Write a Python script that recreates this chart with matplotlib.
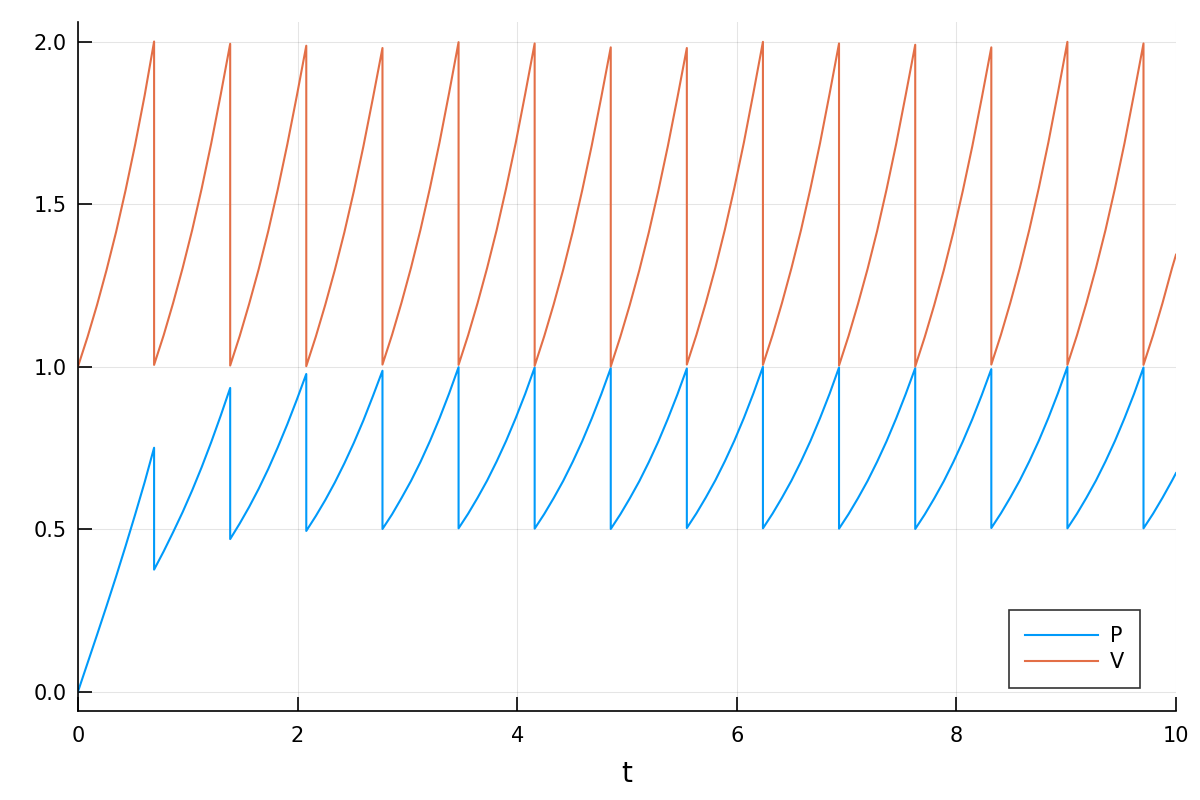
import matplotlib
matplotlib.use("Agg")
import matplotlib.pyplot as plt

# sample times along each sawtooth segment
t = [
    0.000, 0.087, 0.173, 0.260, 0.347, 0.433, 0.520, 0.607, 0.693,
    0.693, 0.780, 0.866, 0.953, 1.040, 1.126, 1.213, 1.300, 1.386,
    1.386, 1.473, 1.559, 1.646, 1.733, 1.819, 1.906, 1.993, 2.079,
    2.079, 2.166, 2.252, 2.339, 2.426, 2.512, 2.599, 2.686, 2.773,
    2.773, 2.860, 2.946, 3.033, 3.120, 3.206, 3.293, 3.380, 3.466,
    3.466, 3.553, 3.639, 3.726, 3.813, 3.899, 3.986, 4.073, 4.159,
    4.159, 4.246, 4.332, 4.419, 4.506, 4.592, 4.679, 4.766, 4.852,
    4.852, 4.939, 5.025, 5.112, 5.199, 5.285, 5.372, 5.459, 5.545,
    5.545, 5.632, 5.718, 5.805, 5.892, 5.978, 6.065, 6.152, 6.238,
    6.238, 6.325, 6.411, 6.498, 6.585, 6.671, 6.758, 6.845, 6.931,
    6.931, 7.018, 7.104, 7.191, 7.278, 7.364, 7.451, 7.538, 7.625,
    7.625, 7.712, 7.798, 7.885, 7.972, 8.058, 8.145, 8.232, 8.318,
    8.318, 8.405, 8.491, 8.578, 8.665, 8.751, 8.838, 8.925, 9.011,
    9.011, 9.098, 9.184, 9.271, 9.358, 9.444, 9.531, 9.618, 9.704,
    9.704, 9.791, 9.877, 9.964, 10.000,
]

P = [
    0.000, 0.087, 0.174, 0.263, 0.354, 0.447, 0.544, 0.644, 0.750,
    0.375, 0.431, 0.490, 0.552, 0.619, 0.690, 0.767, 0.849, 0.934,
    0.469, 0.517, 0.568, 0.624, 0.685, 0.751, 0.822, 0.898, 0.977,
    0.494, 0.540, 0.589, 0.643, 0.702, 0.765, 0.834, 0.909, 0.987,
    0.500, 0.545, 0.595, 0.648, 0.707, 0.771, 0.841, 0.917, 0.998,
    0.502, 0.547, 0.596, 0.649, 0.708, 0.771, 0.841, 0.916, 0.997,
    0.501, 0.546, 0.595, 0.648, 0.707, 0.770, 0.840, 0.915, 0.995,
    0.500, 0.545, 0.594, 0.647, 0.706, 0.769, 0.839, 0.914, 0.994,
    0.503, 0.548, 0.597, 0.650, 0.709, 0.772, 0.842, 0.918, 0.999,
    0.502, 0.547, 0.596, 0.649, 0.708, 0.771, 0.841, 0.916, 0.997,
    0.501, 0.546, 0.595, 0.648, 0.707, 0.770, 0.840, 0.915, 0.995,
    0.500, 0.545, 0.594, 0.647, 0.706, 0.769, 0.838, 0.913, 0.992,
    0.503, 0.548, 0.597, 0.650, 0.709, 0.772, 0.842, 0.918, 0.999,
    0.502, 0.547, 0.596, 0.649, 0.708, 0.771, 0.841, 0.916, 0.997,
    0.502, 0.547, 0.596, 0.649, 0.672,
]

V = [
    1.000, 1.091, 1.189, 1.297, 1.414, 1.542, 1.682, 1.834, 2.000,
    1.005, 1.096, 1.195, 1.303, 1.420, 1.547, 1.686, 1.837, 1.993,
    1.003, 1.094, 1.193, 1.300, 1.417, 1.544, 1.683, 1.833, 1.987,
    1.001, 1.092, 1.190, 1.297, 1.413, 1.539, 1.677, 1.826, 1.980,
    1.006, 1.097, 1.196, 1.304, 1.422, 1.550, 1.690, 1.842, 1.998,
    1.005, 1.096, 1.195, 1.303, 1.420, 1.548, 1.687, 1.839, 1.994,
    1.002, 1.093, 1.191, 1.298, 1.415, 1.542, 1.680, 1.829, 1.982,
    1.000, 1.091, 1.189, 1.296, 1.413, 1.540, 1.678, 1.827, 1.980,
    1.006, 1.097, 1.196, 1.304, 1.422, 1.550, 1.690, 1.843, 1.999,
    1.005, 1.096, 1.195, 1.303, 1.420, 1.548, 1.687, 1.839, 1.994,
    1.003, 1.094, 1.193, 1.300, 1.417, 1.545, 1.684, 1.835, 1.990,
    1.000, 1.091, 1.189, 1.296, 1.413, 1.540, 1.678, 1.828, 1.982,
    1.006, 1.097, 1.196, 1.304, 1.422, 1.550, 1.690, 1.843, 1.999,
    1.005, 1.096, 1.195, 1.303, 1.420, 1.548, 1.687, 1.839, 1.994,
    1.005, 1.096, 1.195, 1.303, 1.344,
]

xticks = [0, 2, 4, 6, 8, 10]
yticks = [0.0, 0.5, 1.0, 1.5, 2.0]

fig = plt.figure(figsize=(12, 8), dpi=100)
ax = fig.add_axes([0.065, 0.11125, 0.915, 0.86125])

ax.plot(t, P, color="#009AFA", linewidth=1.5, label="P")
ax.plot(t, V, color="#E36F47", linewidth=1.5, label="V")

ax.set_xlim(0, 10)
ax.set_ylim(-0.06, 2.06)
ax.set_xticks(xticks)
ax.set_xticklabels([str(x) for x in xticks])
ax.set_yticks(yticks)
ax.set_yticklabels([f"{y:.1f}" for y in yticks])

ax.grid(True, color="#000000", alpha=0.1, linewidth=0.8)
ax.set_axisbelow(True)
for s in ["top", "right"]:
    ax.spines[s].set_visible(False)
for s in ["left", "bottom"]:
    ax.spines[s].set_linewidth(1.2)
ax.tick_params(direction="in", length=10, width=1.2, labelsize=15, pad=8)
ax.tick_params(axis="x", pad=11)

ax.set_xlabel("t", fontsize=20, labelpad=10)

leg = ax.legend(loc="lower right", bbox_to_anchor=(0.9672, 0.0334), fontsize=15,
                frameon=True, fancybox=False, handlelength=3.5,
                borderpad=0.75, labelspacing=0.3, borderaxespad=0,
                handletextpad=0.6)
leg.get_frame().set_edgecolor("black")
leg.get_frame().set_linewidth(1.2)

fig.savefig("out.png", dpi=100)
